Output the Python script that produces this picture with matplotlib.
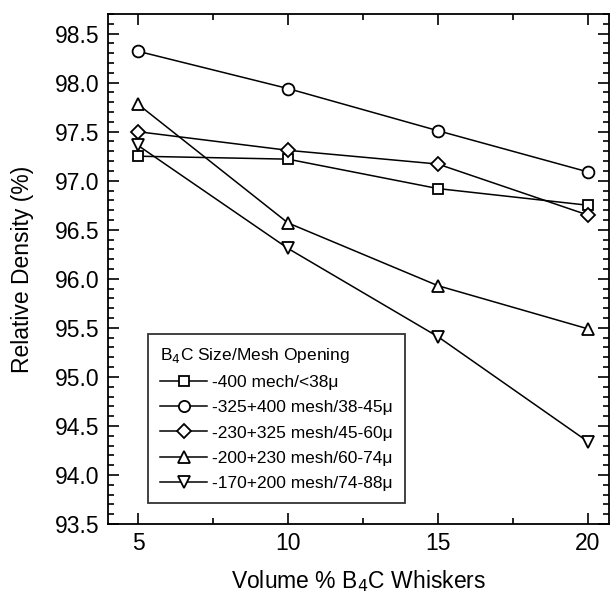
import matplotlib
matplotlib.use("Agg")
import matplotlib.pyplot as plt
from matplotlib.ticker import MultipleLocator

plt.rcParams['font.family'] = ['Liberation Sans', 'DejaVu Sans']

x = [5, 10, 15, 20]
labels = ["-400 mech/<38\u03bc", "-325+400 mesh/38-45\u03bc", "-230+325 mesh/45-60\u03bc",
          "-200+230 mesh/60-74\u03bc", "-170+200 mesh/74-88\u03bc"]
sq = [97.25, 97.22, 96.92, 96.75]
circ = [98.32, 97.94, 97.51, 97.09]
diam = [97.50, 97.31, 97.17, 96.65]
tri_up = [97.78, 96.57, 95.93, 95.49]
tri_dn = [97.36, 96.31, 95.41, 94.34]
series = [sq, circ, diam, tri_up, tri_dn]
markers = ['s', 'o', 'D', '^', 'v']
msizes = [7.5, 8.5, 7, 9, 9]

fig = plt.figure(figsize=(6.15, 5.95), dpi=100)
ax = fig.add_axes([0.1756, 0.1193, 0.8144, 0.8572])

for y, m, ms, lab in zip(series, markers, msizes, labels):
    ax.plot(x, y, color='black', lw=1.1, marker=m, ms=ms, mfc='white', mec='black',
            mew=1.3, label=lab)

ax.set_xlim(4, 20.7)
ax.set_ylim(93.5, 98.7)
ax.xaxis.set_major_locator(MultipleLocator(5))
ax.xaxis.set_minor_locator(MultipleLocator(2.5))
ax.yaxis.set_major_locator(MultipleLocator(0.5))
ax.yaxis.set_minor_locator(MultipleLocator(0.1))
ax.yaxis.set_major_formatter(matplotlib.ticker.FormatStrFormatter('%.1f'))
ax.tick_params(which='both', direction='in', top=True, right=True, labelsize=16.5, width=1.2)
ax.tick_params(which='major', length=8, pad=6)
ax.tick_params(which='minor', length=4)
for s in ax.spines.values():
    s.set_linewidth(1.3)

ax.set_xlabel("Volume % B$_4$C Whiskers", fontsize=16.5, labelpad=9)
ax.set_ylabel("Relative Density (%)", fontsize=16.5, labelpad=15)

leg = ax.legend(loc='lower left', bbox_to_anchor=(0.08, 0.041), title="B$_4$C Size/Mesh Opening",
                fontsize=12.5, title_fontsize=12.5, frameon=True, fancybox=False,
                edgecolor='black', handlelength=2.7, handletextpad=0.3,
                labelspacing=0.58, borderpad=0.7, borderaxespad=0, markerscale=0.95)
leg.get_frame().set_linewidth(1.3)
leg._legend_box.align = "left"

fig.savefig("out.png", dpi=100)
